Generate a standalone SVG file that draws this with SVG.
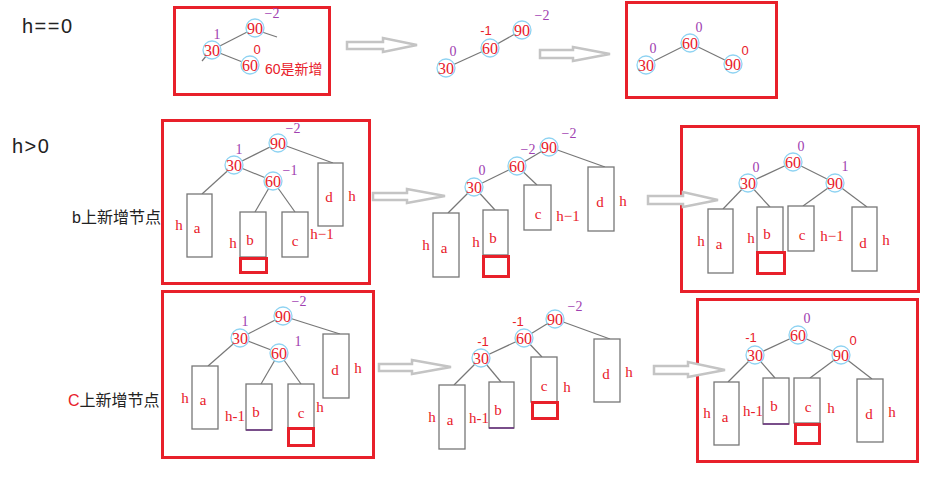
<svg xmlns="http://www.w3.org/2000/svg" width="933" height="481" viewBox="0 0 933 481">
<style>
.frame{fill:none;stroke:#e8202a;stroke-width:3}
.nc{fill:#fff;stroke:#8fd3f2;stroke-width:1.3}
.nt{font-family:"Liberation Serif",serif;font-size:16px;fill:#e8202a;text-anchor:middle}
.bal{font-family:"Liberation Serif",serif;font-size:14px;fill:#a040b0;text-anchor:middle}
.balr{font-family:"Liberation Sans",sans-serif;font-size:13px;fill:#e8202a;text-anchor:middle}
.sub{fill:#fff;stroke:#777;stroke-width:1.3}
.lt{font-family:"Liberation Serif",serif;font-size:15px;fill:#e8202a;text-anchor:middle}
.edge{stroke:#777;stroke-width:1.2;fill:none}
.arr{fill:#fff;stroke:#c4c4c4;stroke-width:2.5}
.new{fill:none;stroke:#e8202a;stroke-width:3}
.lbl{font-family:"Liberation Sans","Noto Sans CJK SC",sans-serif;fill:#222}
</style>

<!-- left labels -->
<g id="labels">
<text class="lbl" x="22" y="33" font-size="20" letter-spacing="1.5">h==0</text>
<text class="lbl" x="12" y="153" font-size="20" letter-spacing="1.5">h&gt;0</text>
<text class="lbl" x="72" y="223" font-size="16">b上新增节点</text>
<text class="lbl" x="68" y="406" font-size="16"><tspan fill="#e8202a">C</tspan>上新增节点</text>
</g>

<!-- frames -->
<g id="frames">
<rect class="frame" x="174.5" y="7.5" width="155" height="87"/>
<rect class="frame" x="626.5" y="2.5" width="150" height="95"/>
<rect class="frame" x="162.5" y="120.5" width="207" height="163"/>
<rect class="frame" x="681.5" y="126.5" width="237" height="165"/>
<rect class="frame" x="162.5" y="291.5" width="211" height="166"/>
<rect class="frame" x="697.5" y="299.5" width="220" height="162"/>
</g>

<!-- transition arrows -->
<g id="arrows">
<polygon class="arr" points="347,42 383,42 383,38 417,45 383,52 383,49 347,49"/>
<polygon class="arr" points="540,50 573,50 573,47 610,54 573,61 573,58 540,58"/>
<polygon class="arr" points="373,193 407,193 407,189 445,196 407,203 407,200 373,200"/>
<polygon class="arr" points="648,196 683,196 683,192 718,200 683,207 683,204 648,204"/>
<polygon class="arr" points="379,364 412,364 412,360 451,367 412,374 412,371 379,371"/>
<polygon class="arr" points="654,366 688,366 688,362 725,370 688,377 688,374 654,374"/>
</g>

<!-- connectors -->
<g id="connectors" class="edge">
<line x1="255" y1="28" x2="212" y2="50"/>
<line x1="262" y1="32" x2="277" y2="37"/>
<line x1="207" y1="55" x2="202" y2="61"/>
<line x1="212" y1="50" x2="250" y2="65"/>
<line x1="522" y1="30" x2="490" y2="48"/>
<line x1="490" y1="48" x2="446" y2="68"/>
<line x1="690" y1="43" x2="646" y2="65"/>
<line x1="690" y1="43" x2="733" y2="64"/>
<line x1="278" y1="143" x2="234" y2="165"/>
<line x1="278" y1="143" x2="333" y2="163"/>
<line x1="234" y1="165" x2="202" y2="194"/>
<line x1="234" y1="165" x2="273" y2="181"/>
<line x1="273" y1="181" x2="255" y2="212"/>
<line x1="273" y1="181" x2="295" y2="212"/>
<line x1="549" y1="147" x2="517" y2="166"/>
<line x1="549" y1="147" x2="605" y2="167"/>
<line x1="517" y1="166" x2="474" y2="187"/>
<line x1="517" y1="166" x2="537" y2="185"/>
<line x1="474" y1="187" x2="448" y2="213"/>
<line x1="474" y1="187" x2="495" y2="210"/>
<line x1="793" y1="162" x2="748" y2="183"/>
<line x1="793" y1="162" x2="835" y2="183"/>
<line x1="748" y1="183" x2="723" y2="209"/>
<line x1="748" y1="183" x2="770" y2="207"/>
<line x1="835" y1="183" x2="803" y2="206"/>
<line x1="835" y1="183" x2="867" y2="207"/>
<line x1="283" y1="316" x2="240" y2="338"/>
<line x1="283" y1="316" x2="340" y2="334"/>
<line x1="240" y1="338" x2="208" y2="366"/>
<line x1="240" y1="338" x2="279" y2="353"/>
<line x1="279" y1="353" x2="261" y2="384"/>
<line x1="279" y1="353" x2="301" y2="384"/>
<line x1="555" y1="319" x2="524" y2="338"/>
<line x1="555" y1="319" x2="610" y2="339"/>
<line x1="524" y1="338" x2="481" y2="358"/>
<line x1="524" y1="338" x2="542" y2="357"/>
<line x1="481" y1="358" x2="454" y2="385"/>
<line x1="481" y1="358" x2="501" y2="382"/>
<line x1="798" y1="335" x2="755" y2="355"/>
<line x1="798" y1="335" x2="841" y2="355"/>
<line x1="755" y1="355" x2="728" y2="382"/>
<line x1="755" y1="355" x2="775" y2="378"/>
<line x1="841" y1="355" x2="810" y2="378"/>
<line x1="841" y1="355" x2="872" y2="379"/>
</g>

<!-- ===== top row ===== -->
<g id="t1-90"><circle class="nc" cx="255" cy="28" r="9"/><text class="nt" x="255" y="34">90</text><text class="bal" x="272" y="18">−2</text></g>
<g id="t1-30"><circle class="nc" cx="212" cy="50" r="9"/><text class="nt" x="212" y="56">30</text><text class="bal" x="217" y="39">1</text></g>
<g id="t1-60"><circle class="nc" cx="250" cy="65" r="9"/><text class="nt" x="250" y="71">60</text><text class="balr" x="257" y="54">0</text></g>
<text id="t1-note" x="265" y="74" font-family="Liberation Sans,Noto Sans CJK SC,sans-serif" font-size="14" fill="#e8202a">60是新增</text>

<g id="t2-90"><circle class="nc" cx="522" cy="30" r="9"/><text class="nt" x="522" y="36">90</text><text class="bal" x="542" y="20">−2</text></g>
<g id="t2-60"><circle class="nc" cx="490" cy="48" r="9"/><text class="nt" x="490" y="54">60</text><text class="balr" x="486" y="35">-1</text></g>
<g id="t2-30"><circle class="nc" cx="446" cy="68" r="9"/><text class="nt" x="446" y="74">30</text><text class="bal" x="453" y="56">0</text></g>

<g id="t3-60"><circle class="nc" cx="690" cy="43" r="9"/><text class="nt" x="690" y="49">60</text><text class="bal" x="699" y="32">0</text></g>
<g id="t3-30"><circle class="nc" cx="646" cy="65" r="9"/><text class="nt" x="646" y="71">30</text><text class="bal" x="653" y="53">0</text></g>
<g id="t3-90"><circle class="nc" cx="733" cy="64" r="9"/><text class="nt" x="733" y="70">90</text><text class="balr" x="745" y="55">0</text></g>

<!-- ===== middle row left ===== -->
<g id="m1-a"><rect class="sub" x="187" y="194" width="25" height="63"/><text class="lt" x="197" y="233">a</text><text class="lt" x="179" y="230">h</text></g>
<g id="m1-b"><rect class="sub" x="240" y="212" width="26" height="45"/><text class="lt" x="250" y="245">b</text><text class="lt" x="233" y="248">h</text><rect class="new" x="240.5" y="258.5" width="26" height="14"/></g>
<g id="m1-c"><rect class="sub" x="282" y="212" width="26" height="45"/><text class="lt" x="295" y="246">c</text><text class="lt" x="322" y="239">h−1</text></g>
<g id="m1-d"><rect class="sub" x="318" y="163" width="25" height="63"/><text class="lt" x="329" y="202">d</text><text class="lt" x="352" y="201">h</text></g>
<g id="m1-90"><circle class="nc" cx="278" cy="143" r="9"/><text class="nt" x="278" y="149">90</text><text class="bal" x="293" y="133">−2</text></g>
<g id="m1-30"><circle class="nc" cx="234" cy="165" r="9"/><text class="nt" x="234" y="171">30</text><text class="bal" x="239" y="154">1</text></g>
<g id="m1-60"><circle class="nc" cx="273" cy="181" r="9"/><text class="nt" x="273" y="187">60</text><text class="bal" x="290" y="175">−1</text></g>

<!-- ===== middle row middle ===== -->
<g id="m2-a"><rect class="sub" x="433" y="213" width="26" height="64"/><text class="lt" x="444" y="253">a</text><text class="lt" x="426" y="250">h</text></g>
<g id="m2-b"><rect class="sub" x="483" y="210" width="25" height="45"/><text class="lt" x="493" y="243">b</text><text class="lt" x="476" y="247">h</text><rect class="new" x="483.5" y="256.5" width="25" height="20"/></g>
<g id="m2-c"><rect class="sub" x="524" y="185" width="27" height="45"/><text class="lt" x="538" y="219">c</text><text class="lt" x="568" y="221">h−1</text></g>
<g id="m2-d"><rect class="sub" x="588" y="167" width="26" height="64"/><text class="lt" x="600" y="207">d</text><text class="lt" x="623" y="206">h</text></g>
<g id="m2-90"><circle class="nc" cx="549" cy="147" r="9"/><text class="nt" x="549" y="153">90</text><text class="bal" x="569" y="138">−2</text></g>
<g id="m2-60"><circle class="nc" cx="517" cy="166" r="9"/><text class="nt" x="517" y="172">60</text><text class="bal" x="528" y="154">−2</text></g>
<g id="m2-30"><circle class="nc" cx="474" cy="187" r="9"/><text class="nt" x="474" y="193">30</text><text class="bal" x="482" y="175">0</text></g>

<!-- ===== middle row right ===== -->
<g id="m3-a"><rect class="sub" x="708" y="209" width="25" height="64"/><text class="lt" x="719" y="249">a</text><text class="lt" x="701" y="246">h</text></g>
<g id="m3-b"><rect class="sub" x="757" y="207" width="26" height="45"/><text class="lt" x="767" y="239">b</text><text class="lt" x="751" y="243">h</text><rect class="new" x="757.5" y="252.5" width="27" height="21"/></g>
<g id="m3-c"><rect class="sub" x="788" y="206" width="26" height="45"/><text class="lt" x="802" y="240">c</text><text class="lt" x="832" y="241">h−1</text></g>
<g id="m3-d"><rect class="sub" x="852" y="207" width="25" height="64"/><text class="lt" x="863" y="248">d</text><text class="lt" x="886" y="245">h</text></g>
<g id="m3-60"><circle class="nc" cx="793" cy="162" r="9"/><text class="nt" x="793" y="168">60</text><text class="bal" x="801" y="151">0</text></g>
<g id="m3-30"><circle class="nc" cx="748" cy="183" r="9"/><text class="nt" x="748" y="189">30</text><text class="bal" x="756" y="172">0</text></g>
<g id="m3-90"><circle class="nc" cx="835" cy="183" r="9"/><text class="nt" x="835" y="189">90</text><text class="bal" x="845" y="171">1</text></g>

<!-- ===== bottom row left ===== -->
<g id="b1-a"><rect class="sub" x="192" y="366" width="26" height="63"/><text class="lt" x="203" y="405">a</text><text class="lt" x="185" y="403">h</text></g>
<g id="b1-b"><rect class="sub" x="246" y="384" width="26" height="46"/><line x1="246" y1="430" x2="272" y2="430" stroke="#6a3080" stroke-width="1.5"/><text class="lt" x="256" y="417">b</text><text class="lt" x="235" y="421">h-1</text></g>
<g id="b1-c"><rect class="sub" x="288" y="384" width="26" height="44"/><text class="lt" x="301" y="418">c</text><text class="lt" x="320" y="412">h</text><rect class="new" x="288.5" y="428.5" width="25" height="17"/></g>
<g id="b1-d"><rect class="sub" x="323" y="334" width="26" height="64"/><text class="lt" x="335" y="375">d</text><text class="lt" x="358" y="373">h</text></g>
<g id="b1-90"><circle class="nc" cx="283" cy="316" r="9"/><text class="nt" x="283" y="322">90</text><text class="bal" x="299" y="306">−2</text></g>
<g id="b1-30"><circle class="nc" cx="240" cy="338" r="9"/><text class="nt" x="240" y="344">30</text><text class="bal" x="245" y="326">1</text></g>
<g id="b1-60"><circle class="nc" cx="279" cy="353" r="9"/><text class="nt" x="279" y="359">60</text><text class="bal" x="298" y="346">1</text></g>

<!-- ===== bottom row middle ===== -->
<g id="b2-a"><rect class="sub" x="439" y="385" width="26" height="64"/><text class="lt" x="450" y="425">a</text><text class="lt" x="432" y="422">h</text></g>
<g id="b2-b"><rect class="sub" x="489" y="382" width="25" height="46"/><line x1="489" y1="428" x2="514" y2="428" stroke="#6a3080" stroke-width="1.5"/><text class="lt" x="498" y="415">b</text><text class="lt" x="479" y="423">h-1</text></g>
<g id="b2-c"><rect class="sub" x="531" y="357" width="26" height="45"/><text class="lt" x="544" y="391">c</text><text class="lt" x="567" y="392">h</text><rect class="new" x="532.5" y="402.5" width="25" height="16"/></g>
<g id="b2-d"><rect class="sub" x="594" y="339" width="26" height="63"/><text class="lt" x="606" y="379">d</text><text class="lt" x="629" y="377">h</text></g>
<g id="b2-90"><circle class="nc" cx="555" cy="319" r="9"/><text class="nt" x="555" y="325">90</text><text class="bal" x="575" y="311">−2</text></g>
<g id="b2-60"><circle class="nc" cx="524" cy="338" r="9"/><text class="nt" x="524" y="344">60</text><text class="balr" x="518" y="326">-1</text></g>
<g id="b2-30"><circle class="nc" cx="481" cy="358" r="9"/><text class="nt" x="481" y="364">30</text><text class="balr" x="483" y="346">-1</text></g>

<!-- ===== bottom row right ===== -->
<g id="b3-a"><rect class="sub" x="714" y="382" width="25" height="63"/><text class="lt" x="725" y="422">a</text><text class="lt" x="707" y="418">h</text></g>
<g id="b3-b"><rect class="sub" x="763" y="378" width="26" height="46"/><line x1="763" y1="424" x2="789" y2="424" stroke="#6a3080" stroke-width="1.5"/><text class="lt" x="774" y="411">b</text><text class="lt" x="753" y="416">h-1</text></g>
<g id="b3-c"><rect class="sub" x="794" y="378" width="26" height="45"/><text class="lt" x="808" y="412">c</text><text class="lt" x="831" y="413">h</text><rect class="new" x="795.5" y="424.5" width="24" height="19"/></g>
<g id="b3-d"><rect class="sub" x="857" y="379" width="26" height="63"/><text class="lt" x="869" y="419">d</text><text class="lt" x="892" y="417">h</text></g>
<g id="b3-60"><circle class="nc" cx="798" cy="335" r="9"/><text class="nt" x="798" y="341">60</text><text class="bal" x="807" y="323">0</text></g>
<g id="b3-30"><circle class="nc" cx="755" cy="355" r="9"/><text class="nt" x="755" y="361">30</text><text class="balr" x="751" y="342">-1</text></g>
<g id="b3-90"><circle class="nc" cx="841" cy="355" r="9"/><text class="nt" x="841" y="361">90</text><text class="balr" x="853" y="345">0</text></g>
</svg>
